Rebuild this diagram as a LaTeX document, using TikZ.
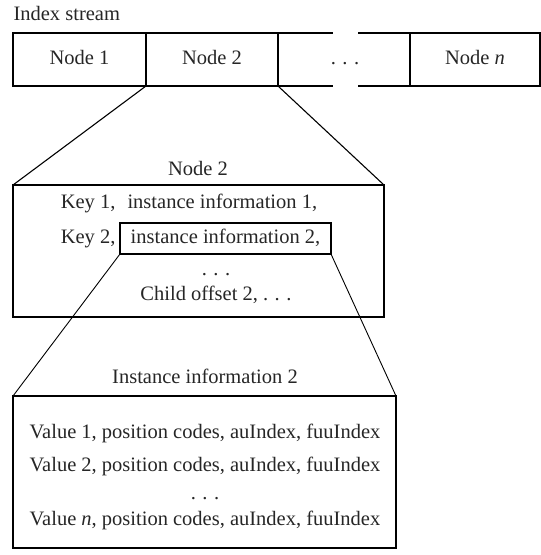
\documentclass[tikz,border=0pt]{standalone}
\usepackage{fontspec}
\setmainfont{Liberation Serif}
\newcommand{\sdots}{.\kern0.32em.\kern0.32em.}
\begin{document}
\begin{tikzpicture}[x=1pt,y=-1pt,
  line width=1.1pt,
  every node/.style={font=\fontsize{20.5}{24}\selectfont, text=black!85},
  txt/.style={inner sep=0pt, text height=14pt, text depth=4pt},
  cell/.style={draw, inner sep=0pt, outer sep=0pt, minimum height=53pt, text height=14pt, text depth=4pt},
  frame/.style={draw, inner sep=0pt, outer sep=0pt}]
\useasboundingbox (0,0) rectangle (541,555);

% index stream row
\node[txt, anchor=west] (title) at (13,15) {Index stream};
\node[cell, minimum width=133pt] (n1) at (79.5,59.5) {Node 1};
\node[cell, minimum width=132pt] (n2) at (212,59.5) {Node 2};
\node[txt] (ndots) at (345,59.5) {\sdots};
\node[cell, minimum width=130pt] (nn) at (475,59.5) {Node \textit{n}};
\coordinate (gtl) at (333,33);
\coordinate (gtr) at (358,33);
\coordinate (gbl) at (333,86);
\coordinate (gbr) at (358,86);
\draw (n2.north east) -- (gtl) (gtr) -- (nn.north west);
\draw (n2.south east) -- (gbl) (gbr) -- (nn.south west);

% expanded node 2
\node[txt] (n2title) at (198,170) {Node 2};
\node[frame, minimum width=371pt, minimum height=132pt] (n2box) at (198.5,251) {};
\node[txt, anchor=east] (key1) at (116,203) {Key 1,};
\node[txt, anchor=west] (inf1) at (127,203) {instance information 1,};
\node[txt, anchor=east] (key2) at (116,238) {Key 2,};
\node[frame, minimum width=211pt, minimum height=31pt, text height=14pt, text depth=4pt] (inf2) at (225.5,238.5) {instance information 2,};
\node[txt] (kdots) at (216,270) {\sdots};
\node[txt] (child) at (216,295) {Child offset 2, \sdots};
\draw (n1.south east) -- (n2box.north west);
\draw (n2.south east) -- (n2box.north east);

% expanded instance information
\node[txt] (iititle) at (205,378) {Instance information 2};
\node[frame, minimum width=383pt, minimum height=152pt] (iibox) at (204.5,472) {};
\node[txt] (v1) at (205,433) {Value 1, position codes, auIndex, fuuIndex};
\node[txt] (v2) at (205,466) {Value 2, position codes, auIndex, fuuIndex};
\node[txt] (vdots) at (205,494) {\sdots};
\node[txt] (vn) at (205,520) {Value \textit{n}, position codes, auIndex, fuuIndex};
\draw[line width=0.9pt] (inf2.south west) -- (iibox.north west);
\draw[line width=0.9pt] (inf2.south east) -- (iibox.north east);
\end{tikzpicture}
\end{document}
